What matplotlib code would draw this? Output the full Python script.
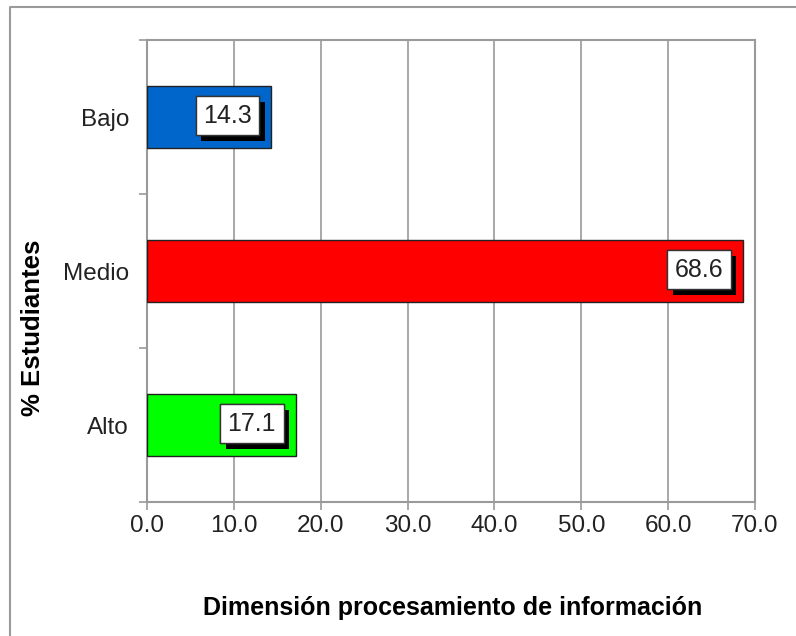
import matplotlib.pyplot as plt
import matplotlib.patheffects as pe
from matplotlib.lines import Line2D

# data
categories = ['Alto', 'Medio', 'Bajo']
values = [17.1, 68.6, 14.3]
bar_colors = ['#00FF00', '#FF0000', '#0066CC']
xticks = [0, 10, 20, 30, 40, 50, 60, 70]

narrow = ['Liberation Sans Narrow', 'Liberation Sans', 'DejaVu Sans']
bold = ['Liberation Sans', 'DejaVu Sans']
grey = '#9A9A9A'

fig = plt.figure(figsize=(7.96, 6.36), dpi=100)
ax = fig.add_axes([147 / 796, 1 - 502 / 636, 608 / 796, 462 / 636])

ypos = list(range(len(categories)))
ax.barh(ypos, values, height=0.4, color=bar_colors, edgecolor='#222222', linewidth=1, zorder=3)

ax.set_xlim(0, 70)
ax.set_ylim(-0.5, 2.5)
ax.set_xticks(xticks)
ax.set_xticklabels([f'{t:.1f}' for t in xticks], family=narrow, fontsize=17.5, color='#222222')
ax.set_yticks(ypos)
ax.set_yticklabels(categories, family=narrow, fontsize=17.5, color='#222222')
ax.tick_params(axis='y', which='major', length=0, pad=13)
ax.set_yticks([-0.5, 0.5, 1.5, 2.5], minor=True)
ax.tick_params(axis='y', which='minor', length=6, color=grey, width=1.2)
ax.tick_params(axis='x', length=6, color=grey, width=1.2, pad=3)

ax.grid(axis='x', color=grey, linewidth=1.2, zorder=0)
for s in ax.spines.values():
    s.set_color(grey)
    s.set_linewidth(1.5)

# value labels with shadowed boxes
for y, v in zip(ypos, values):
    t = ax.annotate(f'{v:.1f}', xy=(v, y), xytext=(-14, 1), textcoords='offset points',
                    ha='right', va='center', family=narrow, fontsize=18, color='#222222', zorder=5,
                    bbox=dict(boxstyle='square,pad=0.3', facecolor='white', edgecolor='#333333', linewidth=1))
    t.get_bbox_patch().set_path_effects([
        pe.withSimplePatchShadow(offset=(4, -4), shadow_rgbFace='black', alpha=1.0),
        pe.Normal()])

ax.set_xlabel('Dimensión procesamiento de información', family=bold, fontsize=18, fontweight='bold', va='center')
ax.xaxis.set_label_coords(0.503, -0.23)
ax.set_ylabel('% Estudiantes', family=bold, fontsize=18.5, fontweight='bold', va='center')
ax.yaxis.set_label_coords(-0.1875, 0.377)

# outer chart frame (cut at right and bottom)
fx = 9.5 / 796
fy = 1 - 6.5 / 636
fig.add_artist(Line2D([fx, fx, 1.0], [0.0, fy, fy], transform=fig.transFigure, color=grey, linewidth=1.5))

fig.savefig('out.png', dpi=100)
